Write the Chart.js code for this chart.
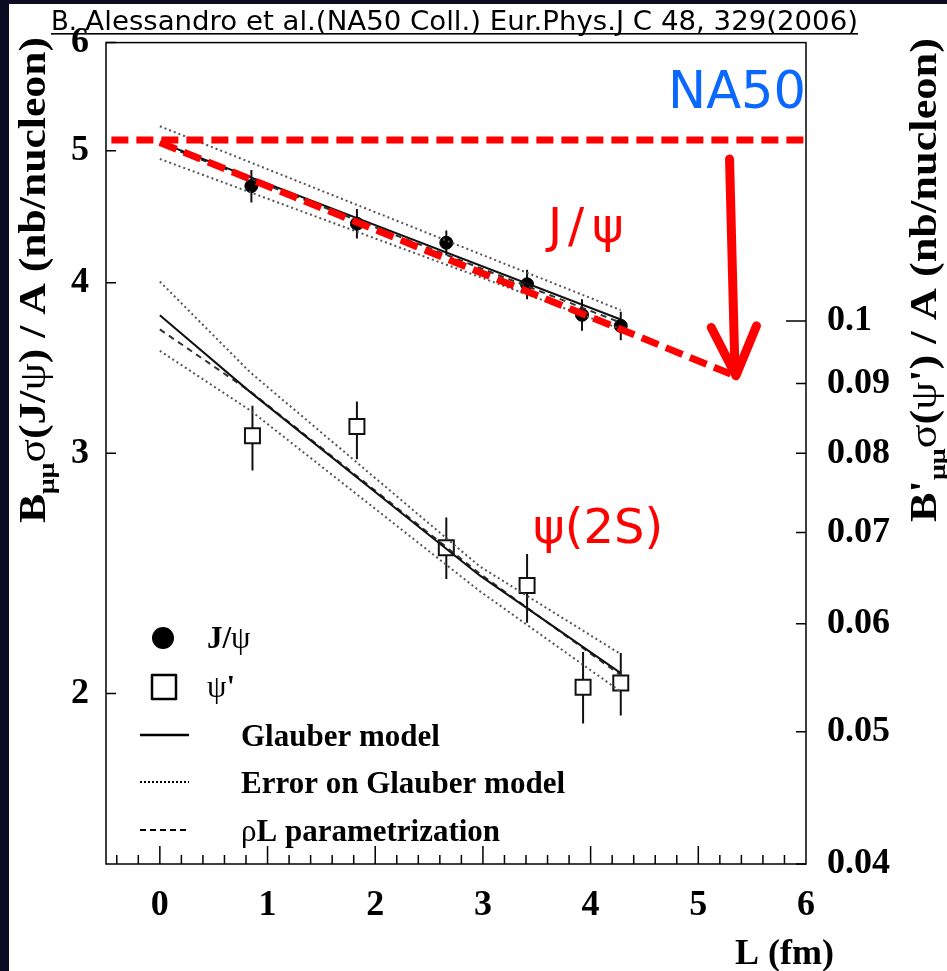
<!DOCTYPE html>
<html>
<head>
<meta charset="utf-8">
<script src="https://cdn.jsdelivr.net/npm/chart.js@4.4.1/dist/chart.umd.min.js"></script>
<style>
html, body { margin: 0; padding: 0; background: #fff; }
#myChart { display: block; }
</style>
</head>
<body>
<canvas id="myChart" width="947" height="971"></canvas>
<script>
// measured points (L in fm)
var jpsiL = [0.85, 1.83, 2.66, 3.41, 3.92, 4.28];
var jpsiVal = [4.71, 4.42, 4.28, 3.99, 3.79, 3.72];
var jpsiErr = [0.13, 0.11, 0.09, 0.10, 0.10, 0.09];

var psiL = [0.86, 1.83, 2.66, 3.41, 3.93, 4.28];
var psiVal = [0.0824, 0.0837, 0.0682, 0.0640, 0.0539, 0.0543];
var psiLow = [0.0777, 0.0792, 0.0647, 0.0601, 0.0507, 0.0514];
var psiHigh = [0.0867, 0.0873, 0.0718, 0.0675, 0.0572, 0.0571];

// model curves
var jpsiModelL = [0, 4.28];
var jpsiGlauber = [5.07, 3.76];
var jpsiErrUp = [5.21, 3.82];
var jpsiErrLo = [4.93, 3.70];
var jpsiRhoL = [5.06, 3.74];

var psiModelL = [0, 0.84, 2.97, 4.28];
var psiGlauber = [0.1010, 0.0887, 0.0651, 0.0552];
var psiErrUp = [0.1069, 0.0917, 0.0661, 0.0570];
var psiErrLo = [0.0951, 0.0860, 0.0634, 0.0535];
var psiRhoL = [0.0986, 0.0888, 0.0653, 0.0550];

// red overlay (NA50 level, J/psi trend, arrow)
var na50L = [-0.45, 6.05];
var na50Level = [5.09, 5.09];
var trendL = [0, 5.34];
var trendVal = [5.07, 3.42];
var arrowShaftL = [5.29, 5.34];
var arrowShaftVal = [4.93, 3.46];
var arrowHeadL = [5.12, 5.35, 5.54];
var arrowHeadVal = [3.71, 3.42, 3.72];

// ticks
var xTicks = [0, 1, 2, 3, 4, 5, 6];
var leftTicks = [2, 3, 4, 5, 6];
var rightTicks = [0.04, 0.05, 0.06, 0.07, 0.08, 0.09, 0.1];

function pts(xs, ys){
	var out = [];
	xs.forEach(function(v,k){ out.push({x: v, y: ys[k]}); });
	return out;
}

var SERIF = "'Liberation Serif', 'Times New Roman', serif";
var tickFont = {family: 'Liberation Serif', weight: 'bold', size: 36};

function drawRich(ctx, parts, cx, cy, angle, targetLen){
	ctx.save();
	ctx.translate(cx, cy);
	ctx.rotate(angle);
	var total = 0;
	parts.forEach(function(p){ ctx.font = p[1]; p.w = ctx.measureText(p[0]).width; total += p.w; });
	var s = targetLen ? targetLen / total : 1;
	ctx.scale(s, 1);
	ctx.textAlign = 'left';
	ctx.textBaseline = 'alphabetic';
	ctx.fillStyle = '#000';
	var x = -total / 2;
	parts.forEach(function(p){ ctx.font = p[1]; ctx.fillText(p[0], x, p[2]); x += p.w; });
	ctx.restore();
}

function drawParts(ctx, parts, x, y){
	ctx.textAlign = 'left';
	ctx.textBaseline = 'alphabetic';
	ctx.fillStyle = '#000';
	parts.forEach(function(p){ ctx.font = p[1]; ctx.fillText(p[0], x, y); x += ctx.measureText(p[0]).width; });
}

// text squeezed into [x0, x1], underlined
function fitText(ctx, txt, x0, x1, y){
	var w = ctx.measureText(txt).width;
	ctx.save();
	ctx.translate(x0, y);
	ctx.scale((x1 - x0) / w, 1);
	ctx.fillText(txt, 0, 0);
	ctx.fillRect(0, 3, w, 1.6);
	ctx.restore();
}

var backdrop = {
	id: 'backdrop',
	beforeDraw: function(chart){
		var ctx = chart.ctx;
		ctx.save();
		ctx.fillStyle = '#fff';
		ctx.fillRect(0, 0, chart.width, chart.height);
		ctx.fillStyle = '#0b0c21';
		ctx.fillRect(0, 0, chart.width, 4);
		ctx.fillRect(0, 0, 9, chart.height);
		// reference line at top
		ctx.font = "26px 'DejaVu Sans', sans-serif";
		ctx.fillStyle = '#000';
		ctx.textBaseline = 'alphabetic';
		var bw = ctx.measureText('B. ').width;
		fitText(ctx, 'B. ', 51, 51 + bw, 30);
		fitText(ctx, 'Alessandro et al.(NA50 Coll.) Eur.Phys.J C 48, 329(2006)', 51 + bw, 858, 30);
		ctx.restore();
	}
};

var frame = {
	id: 'frame',
	beforeDatasetsDraw: function(chart){
		var ctx = chart.ctx, a = chart.chartArea;
		var sx = chart.scales.x, sy = chart.scales.y, sy2 = chart.scales.y2;
		ctx.save();
		ctx.strokeStyle = '#000';
		ctx.lineWidth = 1.5;
		ctx.strokeRect(a.left, a.top, a.right - a.left, a.bottom - a.top);
		ctx.beginPath();
		for (var i = -2; i <= 29; i++){
			var v = i * 0.2;
			var px = sx.getPixelForValue(v);
			var major = (i % 5 === 0);
			ctx.moveTo(px, a.bottom);
			ctx.lineTo(px, a.bottom - (major ? 18 : 9));
		}
		leftTicks.forEach(function(v){
			var py = sy.getPixelForValue(v);
			ctx.moveTo(a.left, py); ctx.lineTo(a.left + 10, py);
		});
		rightTicks.forEach(function(v){
			var py = sy2.getPixelForValue(v);
			ctx.moveTo(a.right, py); ctx.lineTo(a.right - (v === 0.1 ? 20 : 10), py);
		});
		ctx.stroke();
		ctx.restore();
	}
};

var errorBars = {
	id: 'errorBars',
	beforeDatasetDraw: function(chart, args){
		var ds = chart.data.datasets[args.index];
		if (!ds.errKind) return;
		var ctx = chart.ctx, sx = chart.scales.x;
		var sy = chart.scales[ds.yAxisID];
		ctx.save();
		ctx.strokeStyle = '#111';
		ctx.lineWidth = 2;
		ctx.beginPath();
		ds.data.forEach(function(p, k){
			var lo, hi;
			if (ds.errKind === 'sym'){ lo = p.y - jpsiErr[k]; hi = p.y + jpsiErr[k]; }
			else { lo = psiLow[k]; hi = psiHigh[k]; }
			var px = sx.getPixelForValue(p.x);
			ctx.moveTo(px, sy.getPixelForValue(lo));
			ctx.lineTo(px, sy.getPixelForValue(hi));
		});
		ctx.stroke();
		ctx.restore();
	}
};

var overlay = {
	id: 'overlay',
	afterDraw: function(chart){
		var ctx = chart.ctx, sx = chart.scales.x, sy = chart.scales.y;
		ctx.save();
		// arrow
		ctx.strokeStyle = '#ff0000';
		ctx.lineWidth = 9;
		ctx.lineCap = 'round';
		ctx.lineJoin = 'round';
		ctx.beginPath();
		ctx.moveTo(sx.getPixelForValue(arrowShaftL[0]), sy.getPixelForValue(arrowShaftVal[0]));
		ctx.lineTo(sx.getPixelForValue(arrowShaftL[1]), sy.getPixelForValue(arrowShaftVal[1]));
		ctx.moveTo(sx.getPixelForValue(arrowHeadL[0]), sy.getPixelForValue(arrowHeadVal[0]));
		ctx.lineTo(sx.getPixelForValue(arrowHeadL[1]), sy.getPixelForValue(arrowHeadVal[1]));
		ctx.lineTo(sx.getPixelForValue(arrowHeadL[2]), sy.getPixelForValue(arrowHeadVal[2]));
		ctx.stroke();

		// red / blue labels
		ctx.textBaseline = 'alphabetic';
		ctx.fillStyle = '#ff0000';
		ctx.font = "48px 'DejaVu Sans', sans-serif";
		ctx.textAlign = 'left';
		ctx.fillText('J', 548, 242);
		ctx.fillText('/', 568, 242);
		ctx.fillText('\u03c8', 592, 242);
		ctx.fillText('\u03c8(2S)', 533, 543);
		ctx.fillStyle = '#0a68ff';
		ctx.font = "51px 'DejaVu Sans', sans-serif";
		ctx.textAlign = 'right';
		ctx.fillText('NA50', 806, 108);

		// legend
		ctx.fillStyle = '#000';
		ctx.beginPath();
		ctx.arc(163, 638, 11, 0, Math.PI * 2);
		ctx.fill();
		ctx.strokeStyle = '#000';
		ctx.lineCap = 'butt';
		ctx.lineWidth = 2.5;
		ctx.strokeRect(152, 675, 24, 24);
		ctx.lineWidth = 2.5;
		ctx.beginPath(); ctx.moveTo(140, 735); ctx.lineTo(189, 735); ctx.stroke();
		ctx.lineWidth = 2;
		ctx.setLineDash([2, 2]);
		ctx.beginPath(); ctx.moveTo(140, 782); ctx.lineTo(189, 782); ctx.stroke();
		ctx.setLineDash([6, 4]);
		ctx.beginPath(); ctx.moveTo(140, 830); ctx.lineTo(189, 830); ctx.stroke();
		ctx.setLineDash([]);
		var B = 'bold 31px ' + SERIF, N = '31px ' + SERIF;
		drawParts(ctx, [['J/', B], ['\u03c8', N]], 207, 648);
		drawParts(ctx, [['\u03c8', N], ["'", B]], 207, 697);
		drawParts(ctx, [['Glauber model', B]], 241, 746);
		drawParts(ctx, [['Error on Glauber model', B]], 241, 793);
		drawParts(ctx, [['\u03c1', N], ['L parametrization', B]], 241, 841);

		// axis titles
		var TB = 'bold 38px ' + SERIF, TN = '38px ' + SERIF, TS = 'bold 24px ' + SERIF;
		drawRich(ctx, [['B', TB, 0], ['\u03bc\u03bc', TS, 9], ['\u03c3', TN, 0], ['(J/', TB, 0], ['\u03c8', TN, 0], [') / A (nb/nucleon)', TB, 0]], 45, 280, -Math.PI / 2, 486);
		drawRich(ctx, [["B'", TB, 0], ['\u03bc\u03bc', TS, 9], ['\u03c3', TN, 0], ['(', TB, 0], ['\u03c8', TN, 0], ["') / A (nb/nucleon)", TB, 0]], 936, 280, -Math.PI / 2, 484);
		ctx.fillStyle = '#000';
		ctx.font = 'bold 36px ' + SERIF;
		ctx.textAlign = 'right';
		ctx.fillText('L (fm)', 834, 964);
		ctx.restore();
	}
};

var ctx = document.getElementById('myChart');
var myChart = new Chart(ctx, {
	type: 'scatter',
	data: {
		datasets: [
		{
			label: 'NA50 level', data: pts(na50L, na50Level), yAxisID: 'y', showLine: true,
			borderColor: '#ff0000', borderWidth: 7, borderDash: [17, 8], pointRadius: 0, clip: false, order: 0
		},{
			label: 'J/psi trend', data: pts(trendL, trendVal), yAxisID: 'y', showLine: true,
			borderColor: '#ff0000', borderWidth: 7, borderDash: [18, 8], pointRadius: 0, clip: false, order: 0
		},{
			label: 'J/psi Glauber', data: pts(jpsiModelL, jpsiGlauber), yAxisID: 'y', showLine: true,
			borderColor: '#111', borderWidth: 2, pointRadius: 0, order: 1
		},{
			label: 'J/psi error up', data: pts(jpsiModelL, jpsiErrUp), yAxisID: 'y', showLine: true,
			borderColor: '#555', borderWidth: 2, borderDash: [2, 3], pointRadius: 0, order: 1
		},{
			label: 'J/psi error low', data: pts(jpsiModelL, jpsiErrLo), yAxisID: 'y', showLine: true,
			borderColor: '#555', borderWidth: 2, borderDash: [2, 3], pointRadius: 0, order: 1
		},{
			label: 'J/psi rhoL', data: pts(jpsiModelL, jpsiRhoL), yAxisID: 'y', showLine: true,
			borderColor: '#333', borderWidth: 2, borderDash: [6, 5], pointRadius: 0, order: 1
		},{
			label: 'psi Glauber', data: pts(psiModelL, psiGlauber), yAxisID: 'y2', showLine: true,
			borderColor: '#111', borderWidth: 2, pointRadius: 0, order: 1
		},{
			label: 'psi error up', data: pts(psiModelL, psiErrUp), yAxisID: 'y2', showLine: true,
			borderColor: '#555', borderWidth: 2, borderDash: [2, 3], pointRadius: 0, order: 1
		},{
			label: 'psi error low', data: pts(psiModelL, psiErrLo), yAxisID: 'y2', showLine: true,
			borderColor: '#555', borderWidth: 2, borderDash: [2, 3], pointRadius: 0, order: 1
		},{
			label: 'psi rhoL', data: pts(psiModelL, psiRhoL), yAxisID: 'y2', showLine: true,
			borderColor: '#333', borderWidth: 2, borderDash: [6, 5], pointRadius: 0, order: 1
		},{
			label: 'J/psi', data: pts(jpsiL, jpsiVal), yAxisID: 'y', errKind: 'sym',
			pointStyle: 'circle', pointRadius: 6.5, backgroundColor: '#000', borderColor: '#000', borderWidth: 1, order: 2
		},{
			label: "psi'", data: pts(psiL, psiVal), yAxisID: 'y2', errKind: 'asym',
			pointStyle: 'rect', pointRadius: 10.6, backgroundColor: '#fff', borderColor: '#111', borderWidth: 2, order: 3
		}
		]
	},
	options: {
		responsive: false,
		animation: false,
		events: [],
		layout: { padding: { top: 37, left: 0, right: 0, bottom: 0 } },
		plugins: { legend: { display: false }, tooltip: { enabled: false } },
		scales: {
			x: {
				type: 'linear', position: 'bottom', min: -0.5, max: 6,
				grid: { display: false, drawTicks: false }, border: { display: false },
				ticks: { font: tickFont, color: '#000', padding: 20, autoSkip: false, maxRotation: 0,
					callback: function(v){ return String(v); } },
				afterBuildTicks: function(s){ s.ticks = xTicks.map(function(v){ return {value: v}; }); },
				afterFit: function(s){ s.height = 107; }
			},
			y: {
				type: 'logarithmic', position: 'left', min: 1.5, max: 6,
				grid: { display: false, drawTicks: false }, border: { display: false },
				ticks: { font: tickFont, color: '#000', padding: 17, autoSkip: false,
					callback: function(v){ return String(v); } },
				afterBuildTicks: function(s){ s.ticks = leftTicks.map(function(v){ return {value: v}; }); },
				afterFit: function(s){ s.width = 106; }
			},
			y2: {
				type: 'logarithmic', position: 'right', min: 0.04, max: 0.16,
				grid: { display: false, drawTicks: false }, border: { display: false },
				ticks: { font: tickFont, color: '#000', padding: 21, autoSkip: false,
					callback: function(v){ return String(v); } },
				afterBuildTicks: function(s){ s.ticks = rightTicks.map(function(v){ return {value: v}; }); },
				afterFit: function(s){ s.width = 141; }
			}
		}
	},
	plugins: [backdrop, frame, errorBars, overlay]
});
</script>
</body>
</html>
